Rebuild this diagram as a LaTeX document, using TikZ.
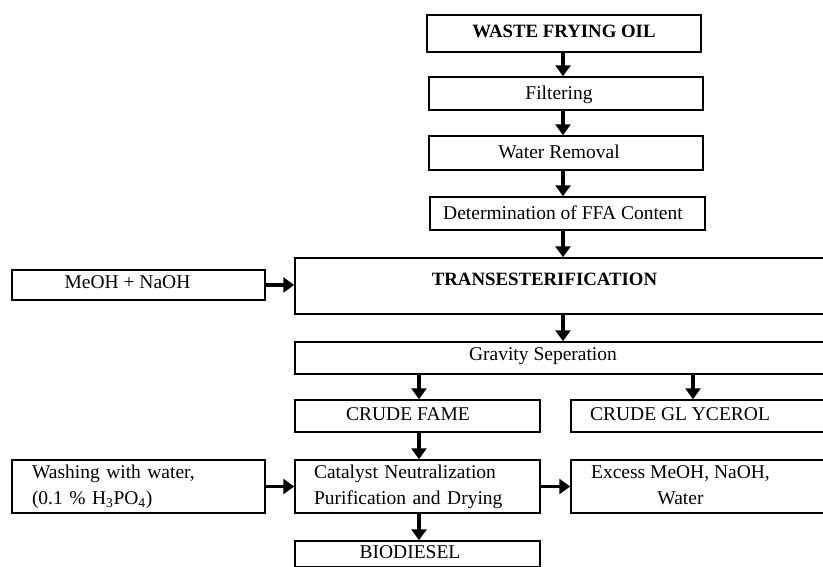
\documentclass[tikz,border=0pt]{standalone}
\usepackage{fontspec}
\setmainfont{Liberation Serif}
\usetikzlibrary{arrows.meta}
\newcommand\mybox[7]{%
  \node[box, minimum width={#4-#2}, minimum height={#5-#3}, #6] (#1) at ({(#2+#4)/2},{(#3+#5)/2}) {#7};}
\begin{document}
\begin{tikzpicture}[x=1pt,y=-1pt,
  box/.style={draw, line width=1.5pt, inner sep=0pt,
    font=\fontsize{19.5}{26}\selectfont, text height=12.5pt, text depth=4pt},
  boldtext/.style={font=\fontsize{18.8}{26}\selectfont\bfseries},
  arr/.style={line width=3.3pt, -{Triangle[width=15pt,length=11pt]}}]
\useasboundingbox (0,0) rectangle (823,566);
\clip (0,0) rectangle (823,566);
\fill[white] (0,0) rectangle (823,566);

\mybox{waste}{427}{15}{701}{52}{boldtext}{WASTE FRYING OIL}
\mybox{filt}{429}{77}{703}{110}{}{\hspace*{-14pt}\raisebox{-1.5pt}{Filtering}}
\mybox{water}{429}{136}{703}{170}{}{\hspace*{-14pt}\raisebox{-1.5pt}{Water Removal}}
\mybox{det}{430}{197}{705}{230}{}{\hspace*{-9pt}\raisebox{-1.5pt}{Determination of FFA Content}}
\mybox{trans}{295}{258}{830}{314}{boldtext}{\hspace*{-36pt}\raisebox{5pt}{TRANSESTERIFICATION}}
\mybox{meoh}{12}{270}{265}{300}{}{\hspace*{-22pt}\raisebox{1pt}{MeOH + NaOH}}
\mybox{grav}{295}{342}{830}{374}{}{\hspace*{-39pt}\raisebox{2pt}{Gravity Seperation}}
\mybox{fame}{295}{400}{540}{432}{}{\hspace*{-19pt}CRUDE FAME}
\mybox{gly}{571}{400}{830}{432}{}{\hspace*{-41pt}CRUDE GL YCEROL}
\mybox{cat}{295}{460}{540}{513}{text height=, text depth=, align=left, inner xsep=19pt, text width=207pt}{Catalyst Neutralization\\Purification and Drying}
\mybox{exc}{571}{460}{830}{513}{text height=, text depth=}{\hspace*{-40pt}\begin{tabular}{@{}c@{}}Excess MeOH, NaOH,\\Water\end{tabular}}
\mybox{wash}{12}{460}{265}{513}{text height=, text depth=, align=left, inner xsep=20pt, text width=213pt}{Washing with water,\\(0.1 \% H\textsubscript{3}PO\textsubscript{4})}
\mybox{bio}{295}{541}{540}{567}{}{\hspace*{-15pt}BIODIESEL}

\coordinate (ax) at (563,0);
\coordinate (bx) at (419,0);
\coordinate (cx) at (693,0);
\draw[arr] (waste.south -| ax) -- (filt.north -| ax);
\draw[arr] (filt.south -| ax) -- (water.north -| ax);
\draw[arr] (water.south -| ax) -- (det.north -| ax);
\draw[arr] (det.south -| ax) -- (trans.north -| ax);
\draw[arr] (trans.south -| ax) -- (grav.north -| ax);
\draw[arr] (grav.south -| bx) -- (fame.north -| bx);
\draw[arr] (grav.south -| cx) -- (gly.north -| cx);
\draw[arr] (fame.south -| bx) -- (cat.north -| bx);
\draw[arr] (cat.south -| bx) -- (bio.north -| bx);
\draw[arr] (meoh.east) -- (meoh.east -| trans.west);
\draw[arr] (wash.east) -- (wash.east -| cat.west);
\draw[arr] (cat.east) -- (cat.east -| exc.west);
\end{tikzpicture}
\end{document}
